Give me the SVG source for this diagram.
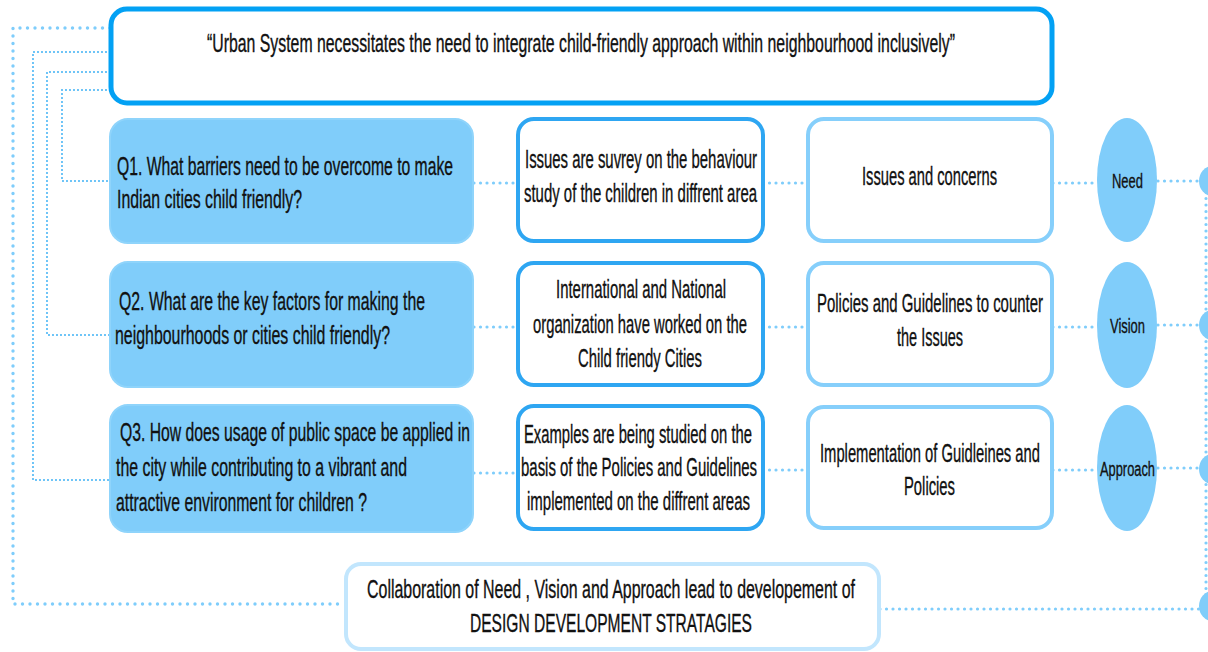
<svg xmlns="http://www.w3.org/2000/svg" width="1208" height="652" viewBox="0 0 1208 652">
<style>
text{font-family:"Liberation Sans",Arial,sans-serif;font-size:25px;fill:#111;stroke:#111;stroke-width:0.35px;}
.q{fill:#80cdfa;stroke:#8fd4fb;stroke-width:2;}
.b2{fill:#fff;stroke:#2ea6f2;stroke-width:4;}
.b3{fill:#fff;stroke:#86cffb;stroke-width:4;}
.el{fill:#80cdfa;}
.lab{font-size:21px;}
.dot{fill:none;stroke:#7fcdfb;stroke-width:3.2;stroke-dasharray:0 6.5;stroke-linecap:round;}
.dot2{fill:none;stroke:#4fb8f6;stroke-width:2.2;stroke-dasharray:0 4;stroke-linecap:round;}
.dotL{fill:none;stroke:#7fcdfb;stroke-width:3.4;stroke-dasharray:0 7.5;stroke-linecap:round;}
</style>
<rect width="1208" height="652" fill="#fff"/>
<g id="connectors">
<path class="dotL" d="M110 28 H13 V604 H345"/>
<path class="dot2" d="M110 52 H33 V480 H110"/>
<path class="dot2" d="M110 72 H47 V335 H110"/>
<path class="dot2" d="M110 90 H62 V181 H110"/>
<path class="dot" d="M474 183 H517 M763 183 H807 M1053 183 H1097 M1158 181 H1200"/>
<path class="dot" d="M474 327 H517 M763 327 H807 M1053 327 H1097 M1158 325 H1200"/>
<path class="dot" d="M474 473 H517 M763 470 H807 M1053 470 H1097 M1158 468 H1200"/>
<path class="dot" d="M880 609 H1200"/>
<path class="dot" d="M1206 192 V598"/>
</g>
<g id="top">
<rect x="111" y="9" width="941" height="94" rx="16" fill="#fff" stroke="#03a1f4" stroke-width="5"/>
<text transform="scale(0.7,1)" x="295.71" y="52" textLength="1068.57" lengthAdjust="spacingAndGlyphs">“Urban System necessitates the need to integrate child-friendly approach within neighbourhood inclusively”</text>
</g>
<g id="q1">
<rect class="q" x="110" y="119" width="363" height="124" rx="18"/>
<text transform="scale(0.7,1)" x="167.14" y="175" textLength="480" lengthAdjust="spacingAndGlyphs">Q1. What barriers need to be overcome to make</text>
<text transform="scale(0.7,1)" x="167.14" y="208" textLength="264.29" lengthAdjust="spacingAndGlyphs">Indian cities child friendly?</text>
</g>
<g id="q2">
<rect class="q" x="110" y="262" width="363" height="125" rx="18"/>
<text transform="scale(0.7,1)" x="170" y="310" textLength="437.14" lengthAdjust="spacingAndGlyphs">Q2. What are the key factors for making the</text>
<text transform="scale(0.7,1)" x="164.29" y="344" textLength="392.86" lengthAdjust="spacingAndGlyphs">neighbourhoods or cities child friendly?</text>
</g>
<g id="q3">
<rect class="q" x="110" y="405" width="363" height="127" rx="18"/>
<text transform="scale(0.7,1)" x="171.43" y="441" textLength="500" lengthAdjust="spacingAndGlyphs">Q3. How does usage of public space be applied in</text>
<text transform="scale(0.7,1)" x="165.71" y="476" textLength="415.71" lengthAdjust="spacingAndGlyphs">the city while contributing to a vibrant and</text>
<text transform="scale(0.7,1)" x="165.71" y="511" textLength="358.57" lengthAdjust="spacingAndGlyphs">attractive environment for children ?</text>
</g>
<g id="b21">
<rect class="b2" x="518" y="119" width="245" height="122" rx="16"/>
<text transform="scale(0.7,1)" x="750" y="168" textLength="331.43" lengthAdjust="spacingAndGlyphs">Issues are suvrey on the behaviour</text>
<text transform="scale(0.7,1)" x="748.57" y="202" textLength="332.86" lengthAdjust="spacingAndGlyphs">study of the children in diffrent area</text>
</g>
<g id="b22">
<rect class="b2" x="518" y="263" width="245" height="122" rx="16"/>
<text transform="scale(0.7,1)" x="794.29" y="298" textLength="242.86" lengthAdjust="spacingAndGlyphs">International and National</text>
<text transform="scale(0.7,1)" x="761.43" y="333" textLength="305.71" lengthAdjust="spacingAndGlyphs">organization have worked on the</text>
<text transform="scale(0.7,1)" x="825.71" y="367" textLength="177.14" lengthAdjust="spacingAndGlyphs">Child friendy Cities</text>
</g>
<g id="b23">
<rect class="b2" x="518" y="406" width="245" height="123" rx="16"/>
<text transform="scale(0.7,1)" x="748.57" y="443" textLength="325.71" lengthAdjust="spacingAndGlyphs">Examples are being studied on the</text>
<text transform="scale(0.7,1)" x="744.29" y="476" textLength="337.14" lengthAdjust="spacingAndGlyphs">basis of the Policies and Guidelines</text>
<text transform="scale(0.7,1)" x="752.86" y="510" textLength="318.57" lengthAdjust="spacingAndGlyphs">implemented on the diffrent areas</text>
</g>
<g id="b31">
<rect class="b3" x="808" y="119" width="244" height="122" rx="16"/>
<text transform="scale(0.7,1)" x="1231.43" y="185" textLength="192.86" lengthAdjust="spacingAndGlyphs">Issues and concerns</text>
</g>
<g id="b32">
<rect class="b3" x="808" y="263" width="244" height="122" rx="16"/>
<text transform="scale(0.7,1)" x="1167.14" y="312" textLength="322.86" lengthAdjust="spacingAndGlyphs">Policies and Guidelines to counter</text>
<text transform="scale(0.7,1)" x="1281.43" y="346" textLength="94.29" lengthAdjust="spacingAndGlyphs">the Issues</text>
</g>
<g id="b33">
<rect class="b3" x="808" y="407" width="244" height="121" rx="16"/>
<text transform="scale(0.7,1)" x="1171.43" y="462" textLength="314.29" lengthAdjust="spacingAndGlyphs">Implementation of Guidleines and</text>
<text transform="scale(0.7,1)" x="1291.43" y="495" textLength="72.86" lengthAdjust="spacingAndGlyphs">Policies</text>
</g>
<g id="need">
<ellipse class="el" cx="1127" cy="180" rx="30" ry="62"/>
<text class="lab" transform="scale(0.7,1)" x="1588.57" y="188" textLength="44.29" lengthAdjust="spacingAndGlyphs">Need</text>
</g>
<g id="vision">
<ellipse class="el" cx="1127" cy="325" rx="30" ry="63"/>
<text class="lab" transform="scale(0.7,1)" x="1585.71" y="333" textLength="50" lengthAdjust="spacingAndGlyphs">Vision</text>
</g>
<g id="approach">
<ellipse class="el" cx="1127" cy="468" rx="30" ry="63"/>
<text class="lab" transform="scale(0.7,1)" x="1571.43" y="476" textLength="78.57" lengthAdjust="spacingAndGlyphs">Approach</text>
</g>
<g id="rightdots">
<ellipse class="el" cx="1212" cy="181" rx="13" ry="15"/>
<ellipse class="el" cx="1212" cy="325" rx="13" ry="15"/>
<ellipse class="el" cx="1212" cy="469" rx="13" ry="15"/>
<ellipse class="el" cx="1212" cy="606" rx="13" ry="15"/>
</g>
<g id="bottom">
<rect x="346" y="564" width="533" height="85" rx="15" fill="#fff" stroke="#c2e6fd" stroke-width="4"/>
<text transform="scale(0.7,1)" x="524.29" y="598" textLength="697.14" lengthAdjust="spacingAndGlyphs">Collaboration of  Need , Vision and Approach lead to developement of</text>
<text transform="scale(0.7,1)" x="671.43" y="632" textLength="402.86" lengthAdjust="spacingAndGlyphs">DESIGN DEVELOPMENT STRATAGIES</text>
</g>
</svg>
